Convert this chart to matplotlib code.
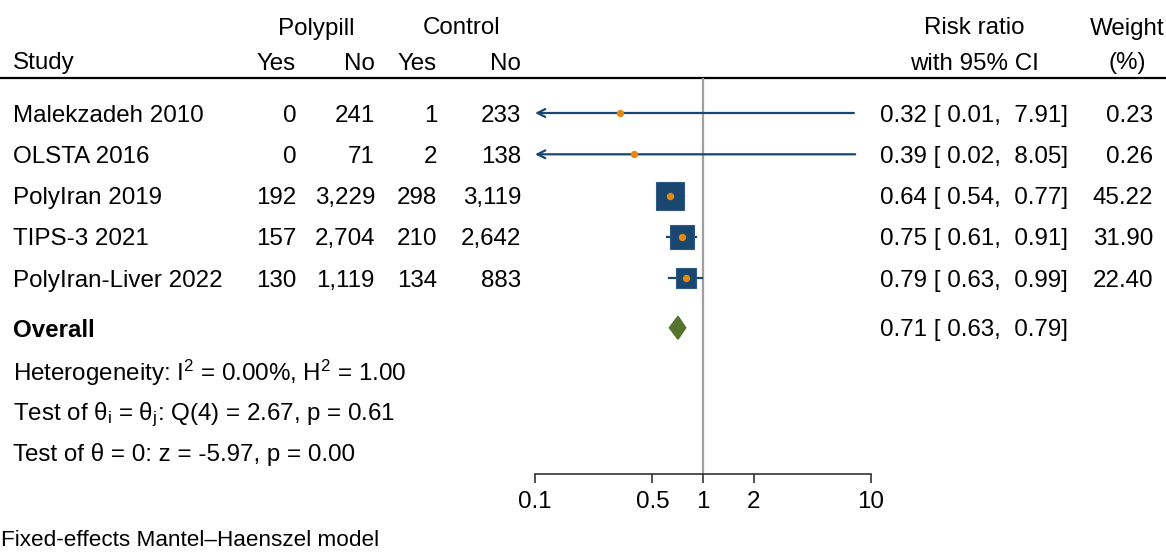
import matplotlib
matplotlib.use('Agg')
import matplotlib.pyplot as plt
import matplotlib.transforms as mtransforms
from matplotlib.patches import Polygon
import numpy as np

plt.rcParams['font.family'] = ['Liberation Sans', 'DejaVu Sans']
plt.rcParams['mathtext.fontset'] = 'custom'
plt.rcParams['mathtext.rm'] = 'Liberation Sans'
plt.rcParams['mathtext.it'] = 'Liberation Sans'

studies = ['Malekzadeh 2010', 'OLSTA 2016', 'PolyIran 2019', 'TIPS-3 2021',
           'PolyIran-Liver 2022']
pp_yes = [0, 0, 192, 157, 130]
pp_no = [241, 71, 3229, 2704, 1119]
ct_yes = [1, 2, 298, 210, 134]
ct_no = [233, 138, 3119, 2642, 883]
rr = [0.32, 0.39, 0.64, 0.75, 0.79]
rr_lo = [0.01, 0.02, 0.54, 0.61, 0.63]
rr_hi = [7.91, 8.05, 0.77, 0.91, 0.99]
weight = [0.23, 0.26, 45.22, 31.90, 22.40]

overall = (0.71, 0.63, 0.79)
notes = [r'Heterogeneity: $\mathregular{I^2}$ = 0.00%, $\mathregular{H^2}$ = 1.00',
         r'Test of $\mathregular{θ_i}$ = $\mathregular{θ_j}$: Q(4) = 2.67, p = 0.61',
         'Test of θ = 0: z = -5.97, p = 0.00']
xticks = [0.1, 0.5, 1, 2, 10]
model_note = 'Fixed-effects Mantel–Haenszel model'

BLUE = '#1a476f'
ORANGE = '#e8870e'
GREEN = '#55752f'
FS = 17.4

W, H = 1166, 552
fig = plt.figure(figsize=(W / 100, H / 100), dpi=100)

# text layer in pixel coordinates
tax = fig.add_axes([0, 0, 1, 1])
tax.set_xlim(0, W)
tax.set_ylim(H, 0)
tax.axis('off')

# forest panel: log-scaled risk ratio axis
x0, x1, ytop, ybot = 535, 871, 78, 474
row0, row_h = 113, 41.3
fax = fig.add_axes([x0 / W, (H - ybot) / H, (x1 - x0) / W, (ybot - ytop) / H])
fax.set_xscale('log')
fax.set_xlim(0.1, 10)
fax.set_ylim((ybot - row0) / row_h, (ytop - row0) / row_h)
fax.patch.set_alpha(0)
for s in ['top', 'left', 'right']:
    fax.spines[s].set_visible(False)
fax.spines['bottom'].set_linewidth(1.2)
fax.spines['bottom'].set_color('#333333')
fax.set_yticks([])
fax.set_xticks(xticks)
fax.set_xticklabels([f'{t:g}' for t in xticks])
fax.minorticks_off()
fax.tick_params(axis='x', length=6.5, width=1.2, color='#333333',
                labelsize=FS, pad=6)

rows = np.arange(len(studies))
overall_row = 5.2
note_rows = [6.2, 7.2, 8.2]

fax.axvline(1, color='#a0a0a0', lw=1.6, zorder=1)

# study estimates
for i in rows:
    lo, hi = rr_lo[i], rr_hi[i]
    if lo < 0.1:
        fax.annotate('', xy=(0.1, i), xytext=(hi, i),
                     arrowprops=dict(arrowstyle='->', color=BLUE, lw=1.6,
                                     shrinkA=0, shrinkB=0,
                                     mutation_scale=14))
    else:
        fax.plot([lo, hi], [i, i], color=BLUE, lw=1.6, zorder=2)
    fax.plot(rr[i], i, marker='s', ms=20.2 * np.sqrt(weight[i] / 45.22),
             color=BLUE, mec='#2d5a85', mew=0.8, zorder=3)
    fax.plot(rr[i], i, 'o', ms=5.3, color=ORANGE, mec='none', zorder=4)

est, olo, ohi = overall
dh = 11.5 / row_h
fax.add_patch(Polygon([(olo, overall_row), (est, overall_row - dh),
                       (ohi, overall_row), (est, overall_row + dh)],
                      closed=True, color=GREEN, zorder=3))

# text columns share the forest panel's row scale
trans = mtransforms.blended_transform_factory(tax.transData, fax.transData)
VA = 'center_baseline'

def put(x, y, s, ha='left', **kw):
    tax.text(x, y, s, ha=ha, va=VA, fontsize=FS, **kw)

put(316, 26, 'Polypill', ha='center')
put(462, 26, 'Control', ha='center')
put(974, 26, 'Risk ratio', ha='center')
put(1127, 26, 'Weight', ha='center')
put(13, 61, 'Study')
put(296, 61, 'Yes', ha='right')
put(375, 61, 'No', ha='right')
put(437, 61, 'Yes', ha='right')
put(521, 61, 'No', ha='right')
put(974, 61, 'with 95% CI', ha='center')
put(1127, 61, '(%)', ha='center')
tax.plot([0, W], [ytop, ytop], color='black', lw=1.6)

for i in rows:
    kw = dict(va=VA, fontsize=FS, transform=trans)
    tax.text(13, i, studies[i], **kw)
    tax.text(296, i, f'{pp_yes[i]:,}', ha='right', **kw)
    tax.text(375, i, f'{pp_no[i]:,}', ha='right', **kw)
    tax.text(437, i, f'{ct_yes[i]:,}', ha='right', **kw)
    tax.text(521, i, f'{ct_no[i]:,}', ha='right', **kw)
    tax.text(880, i, f'{rr[i]:.2f} [ {rr_lo[i]:.2f},  {rr_hi[i]:.2f}]', **kw)
    tax.text(1153, i, f'{weight[i]:.2f}', ha='right', **kw)

tax.text(13, overall_row, 'Overall', va=VA, fontsize=FS,
         fontweight='bold', transform=trans)
tax.text(880, overall_row, f'{est:.2f} [ {olo:.2f},  {ohi:.2f}]',
         va=VA, fontsize=FS, transform=trans)
for r, s in zip(note_rows, notes):
    tax.text(13, r, s, va=VA, fontsize=FS, transform=trans)

tax.text(1, 538, model_note, va=VA, fontsize=16.2)

fig.savefig('out.png', dpi=100, facecolor='white')
